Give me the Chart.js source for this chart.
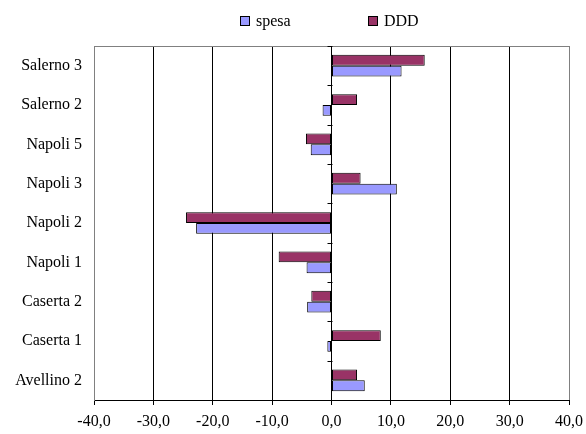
<!DOCTYPE html>
<html>
<head>
<meta charset="utf-8">
<script src="https://cdn.jsdelivr.net/npm/chart.js@4/dist/chart.umd.min.js"></script>
<style>
  html, body { margin: 0; padding: 0; background: #fff; }
  #wrap { position: relative; width: 586px; height: 434px; }
  .legend { position: absolute; top: 12px; font: 16px "Liberation Serif", "Times New Roman", serif; color: #000; }
  .legend span.box { display: inline-block; width: 8px; height: 8px; border: 1px solid #000; margin-right: 6px; vertical-align: 0px; }
</style>
</head>
<body>
<div id="wrap">
  <canvas id="myChart" width="586" height="434"></canvas>
  <div class="legend" style="left:240px"><span class="box" style="background:#9999ff"></span>spesa</div>
  <div class="legend" style="left:368px"><span class="box" style="background:#993366"></span>DDD</div>
</div>
<script>
const ctx = document.getElementById("myChart");

// data, top to bottom as in the picture
const categories = [
  "Salerno 3",
  "Salerno 2",
  "Napoli 5",
  "Napoli 3",
  "Napoli 2",
  "Napoli 1",
  "Caserta 2",
  "Caserta 1",
  "Avellino 2",
];
const spesa = [11.8, -1.5, -3.5, 11.0, -22.8, -4.2, -4.1, -0.7, 5.6];
const ddd = [15.7, 4.3, -4.3, 4.9, -24.5, -8.9, -3.4, 8.3, 4.3];
const xTicks = [-40, -30, -20, -10, 0, 10, 20, 30, 40];

Chart.defaults.font.family = "'Liberation Serif', 'Times New Roman', serif";
Chart.defaults.font.size = 16;
Chart.defaults.color = "#000";

// top border + little ticks on the zero line between categories
const framePlugin = {
  id: "frame",
  afterDraw(chart) {
    const { ctx: c, chartArea: a, scales } = chart;
    c.save();
    c.strokeStyle = "#808080";
    c.lineWidth = 1;
    c.beginPath();
    c.moveTo(a.left, a.top + 0.5);
    c.lineTo(a.right, a.top + 0.5);
    c.stroke();

    const x0 = Math.round(scales.x.getPixelForValue(0)) + 0.5;
    const step = (scales.y.getPixelForValue(1) - scales.y.getPixelForValue(0));
    c.strokeStyle = "#000";
    c.beginPath();
    for (let i = 0; i <= categories.length; i++) {
      const y = Math.round(scales.y.getPixelForValue(0) - step / 2 + i * step) + 0.5;
      c.moveTo(x0 - 5, y);
      c.lineTo(x0, y);
    }
    c.stroke();
    c.restore();
  },
};

const myChart = new Chart(ctx, {
  type: "bar",
  data: {
    labels: categories,
    datasets: [
      {
        label: "DDD",
        data: ddd,
        backgroundColor: "#993366",
        borderColor: "#000",
        borderWidth: 1,
        borderSkipped: false,
        categoryPercentage: 0.55,
        barPercentage: 1.0,
      },
      {
        label: "spesa",
        data: spesa,
        backgroundColor: "#9999ff",
        borderColor: "#000",
        borderWidth: 1,
        borderSkipped: false,
        categoryPercentage: 0.55,
        barPercentage: 1.0,
      },
    ],
  },
  options: {
    indexAxis: "y",
    responsive: false,
    animation: false,
    layout: { padding: { top: 46, right: 17, left: 0, bottom: 0 } },
    plugins: {
      legend: { display: false },
      tooltip: { enabled: false },
    },
    scales: {
      x: {
        min: -40,
        max: 40,
        afterBuildTicks: (scale) => {
          scale.ticks = xTicks.map((v) => ({ value: v }));
        },
        afterFit: (scale) => {
          scale.height = 34;
          scale.paddingLeft = 0;
          scale.paddingRight = 0;
        },
        ticks: {
          padding: 7,
          maxRotation: 0,
          callback: (v) => v.toFixed(1).replace(".", ","),
        },
        grid: {
          color: (c) => (c.tick && Math.abs(c.tick.value) === 40 ? "#808080" : "#000"),
          tickColor: "#000",
          tickLength: 5,
          lineWidth: 1,
        },
        border: { color: "#000", width: 1 },
      },
      y: {
        afterFit: (scale) => {
          scale.width = 94;
        },
        ticks: { padding: 12 },
        grid: { display: false, drawTicks: false },
        border: { color: "#808080", width: 1 },
      },
    },
  },
  plugins: [framePlugin],
});
</script>
</body>
</html>
